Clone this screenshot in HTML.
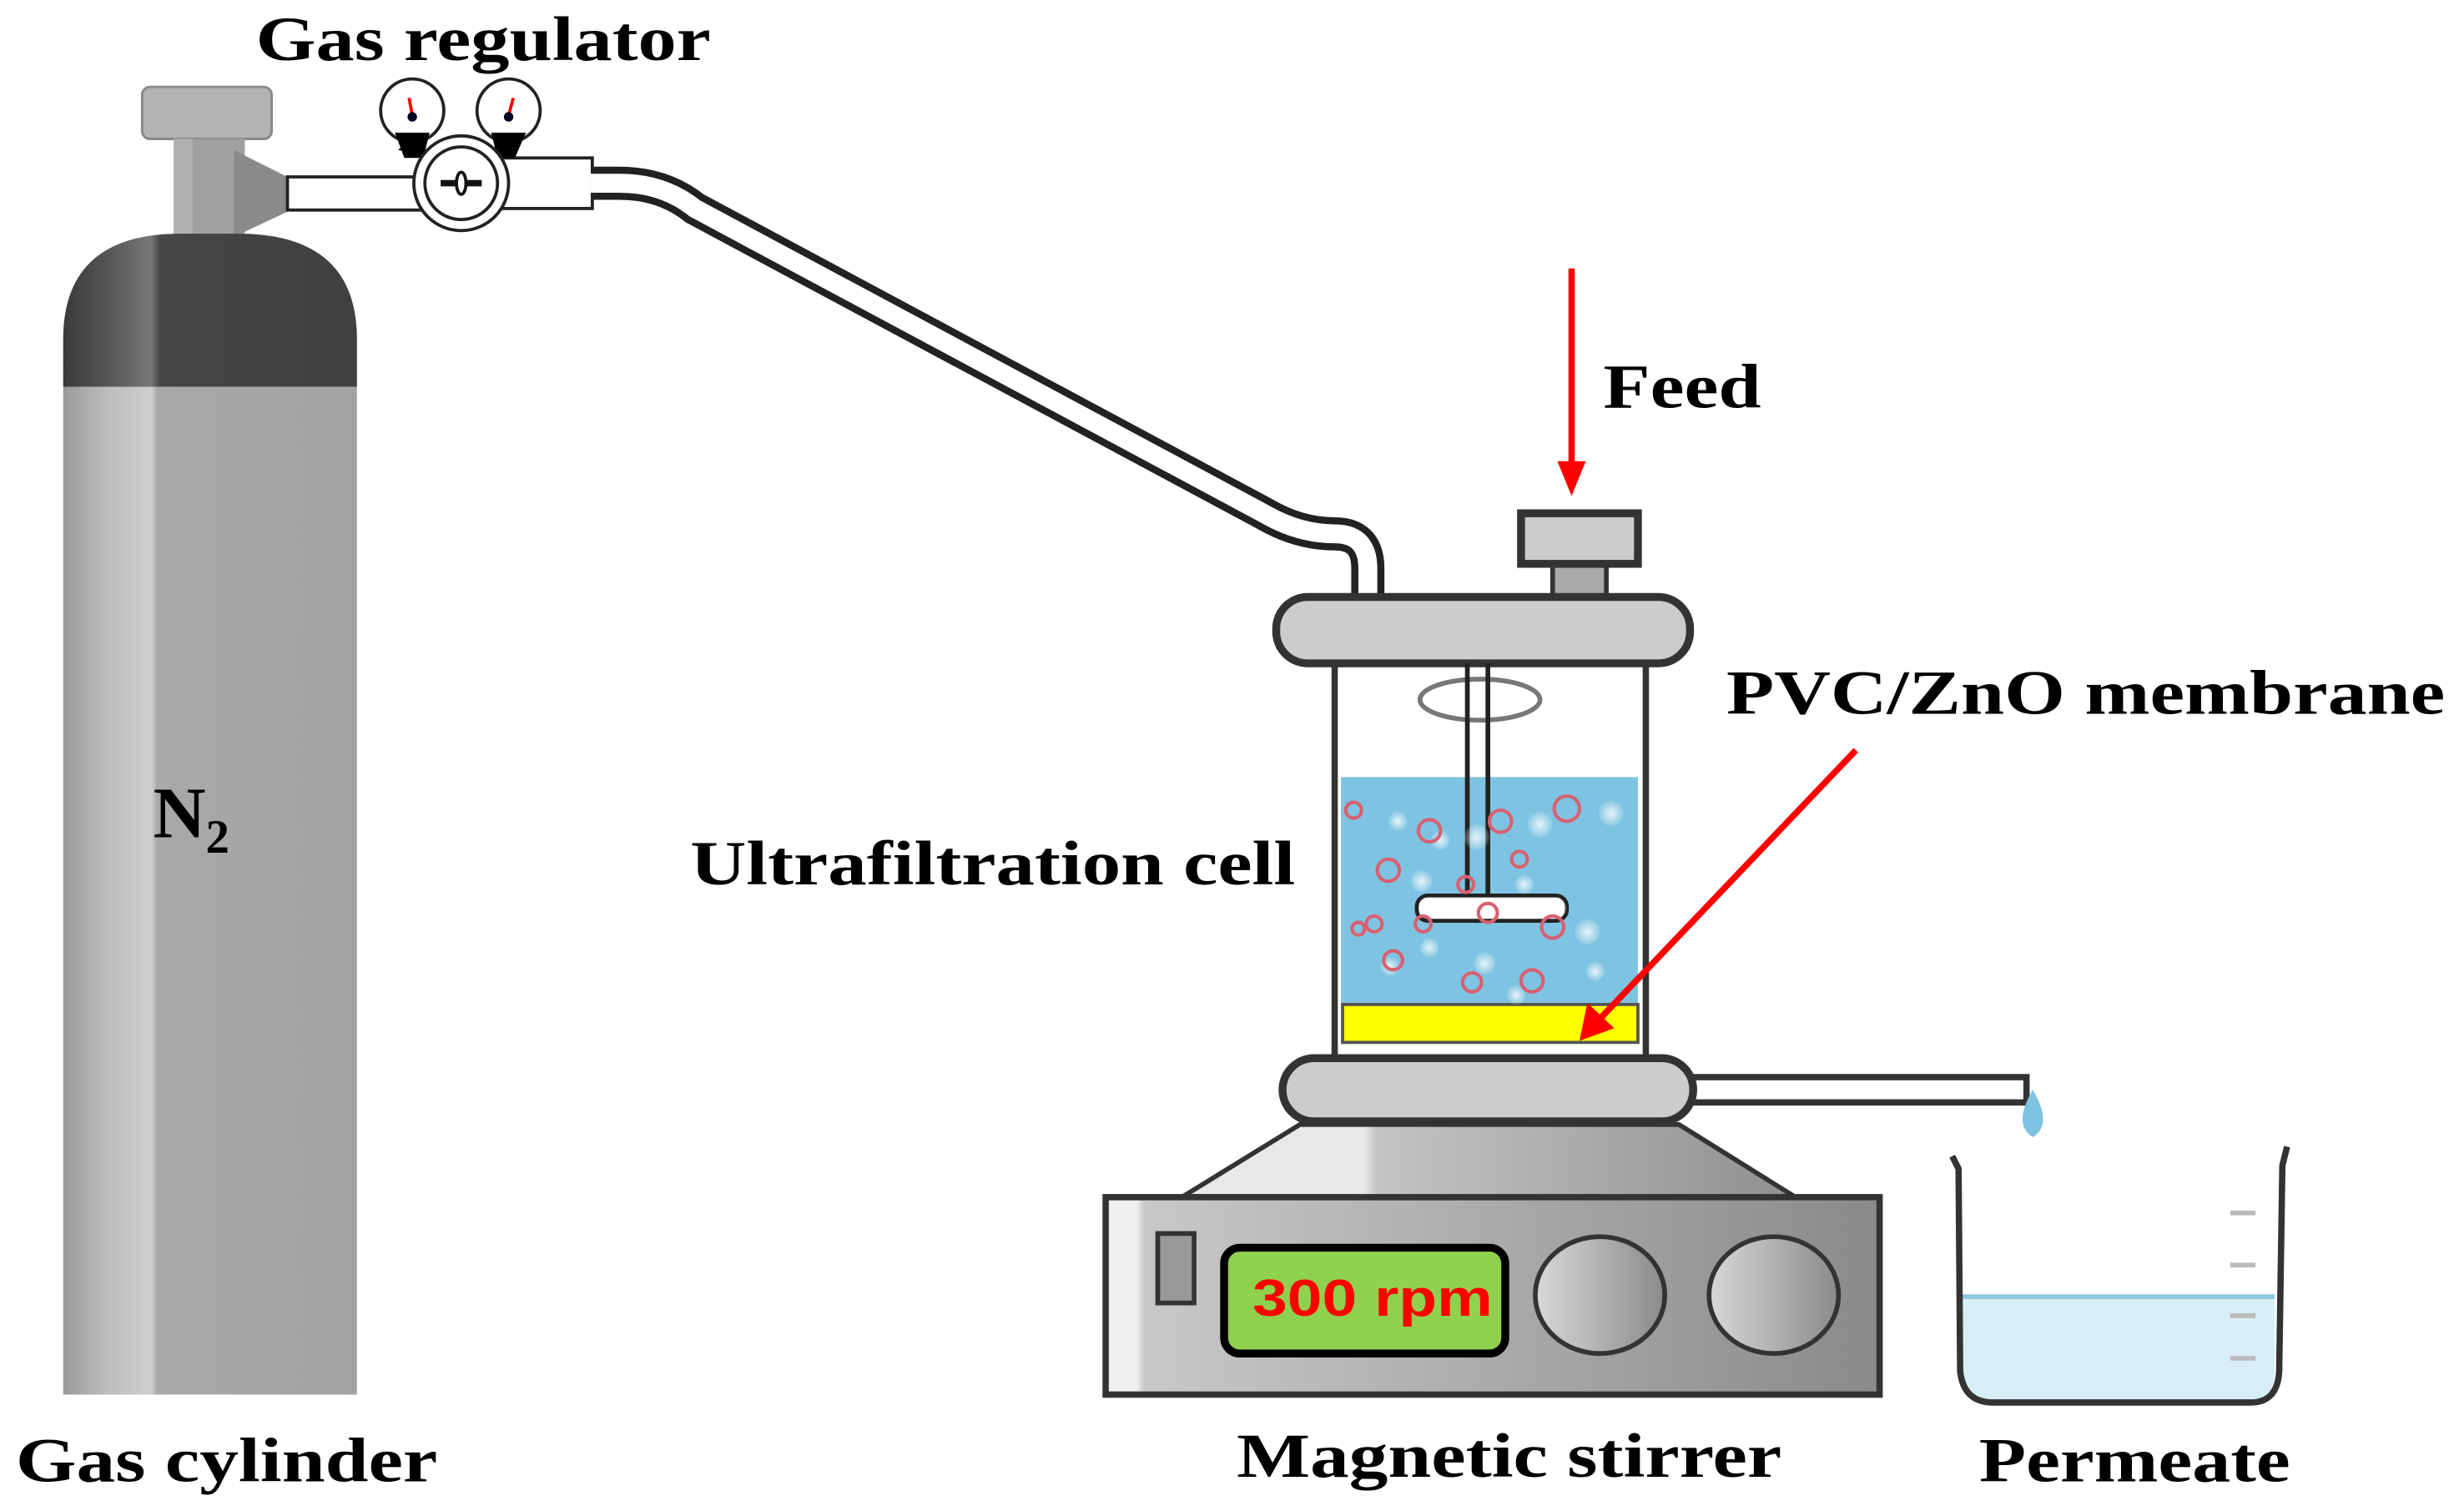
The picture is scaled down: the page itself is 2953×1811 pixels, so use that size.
<!DOCTYPE html>
<html><head><meta charset="utf-8"><style>html,body{margin:0;padding:0;background:#fff}svg{display:block}</style></head>
<body>
<svg width="2953" height="1811" viewBox="0 0 1560 956.7" xmlns="http://www.w3.org/2000/svg" font-family="'Liberation Serif',serif" font-weight="bold">
<defs>
<linearGradient id="cyl" x1="0" x2="1"><stop offset="0" stop-color="#9a9a9a"/><stop offset="0.15" stop-color="#bdbdbd"/><stop offset="0.3" stop-color="#cfcfcf"/><stop offset="0.32" stop-color="#a9a9a9"/><stop offset="1" stop-color="#a3a3a3"/></linearGradient>
<linearGradient id="dome" x1="0" x2="1"><stop offset="0" stop-color="#3a3a3a"/><stop offset="0.15" stop-color="#555"/><stop offset="0.3" stop-color="#777"/><stop offset="0.33" stop-color="#454545"/><stop offset="1" stop-color="#404040"/></linearGradient>
<linearGradient id="box" x1="0" x2="1"><stop offset="0" stop-color="#f0f0f0"/><stop offset="0.04" stop-color="#f0f0f0"/><stop offset="0.05" stop-color="#c8c8c8"/><stop offset="1" stop-color="#8a8a8a"/></linearGradient>
<linearGradient id="trap" x1="0" x2="1"><stop offset="0" stop-color="#e8e8e8"/><stop offset="0.3" stop-color="#e8e8e8"/><stop offset="0.32" stop-color="#c4c4c4"/><stop offset="1" stop-color="#8f8f8f"/></linearGradient>
<linearGradient id="knob" x1="0" x2="1"><stop offset="0" stop-color="#d8d8d8"/><stop offset="1" stop-color="#8a8a8a"/></linearGradient>
<radialGradient id="wb"><stop offset="0" stop-color="#fff" stop-opacity="0.8"/><stop offset="1" stop-color="#fff" stop-opacity="0.1"/></radialGradient>
</defs>

<!-- Gas cylinder -->
<rect x="90" y="55" width="82" height="33" rx="5" fill="#b3b3b3" stroke="#888" stroke-width="1.5"/>
<rect x="110" y="88" width="45" height="65" fill="#a0a0a0"/>
<rect x="110" y="88" width="12" height="65" fill="#b0b0b0"/>
<path d="M148,95 L182,112 L182,134 L148,150 Z" fill="#8a8a8a"/>
<path d="M40,245 L40,215 Q40,150 110,148 L155,148 Q226,150 226,215 L226,245 Z" fill="url(#dome)"/>
<rect x="40" y="245" width="186" height="638" fill="url(#cyl)"/>
<text x="97" y="530" font-size="46">N<tspan font-size="30" dy="10">2</tspan></text>
<text x="10" y="938" font-size="40" textLength="267" lengthAdjust="spacingAndGlyphs">Gas cylinder</text>

<!-- Regulator -->
<text x="162" y="38" font-size="40" textLength="288" lengthAdjust="spacingAndGlyphs">Gas regulator</text>
<rect x="182" y="112" width="90" height="21" fill="#fff" stroke="#222" stroke-width="2"/>
<rect x="310" y="100" width="65" height="32" fill="#fff" stroke="#222" stroke-width="2"/>
<path d="M252,95 L258,90 L265,97 Z M312,95 L318,88 L325,97Z" fill="#000"/>
<circle cx="261" cy="70" r="20" fill="#fff" stroke="#222" stroke-width="2"/>
<circle cx="322" cy="70" r="20" fill="#fff" stroke="#222" stroke-width="2"/>
<path d="M250,84 L256,100 L268,100 L272,84Z M311,84 L315,100 L326,100 L333,84Z" fill="#000"/>
<line x1="261" y1="73" x2="259" y2="62" stroke="red" stroke-width="2"/>
<line x1="322" y1="73" x2="325" y2="62" stroke="red" stroke-width="2"/>
<circle cx="261" cy="74" r="3" fill="#002"/><circle cx="322" cy="74" r="3" fill="#002"/>
<circle cx="292" cy="116" r="30" fill="#fff" stroke="#222" stroke-width="2"/>
<circle cx="292" cy="116" r="23" fill="#fff" stroke="#222" stroke-width="2"/>
<line x1="279" y1="116" x2="305" y2="116" stroke="#111" stroke-width="4"/>
<ellipse cx="292" cy="116" rx="3" ry="7" fill="#fff" stroke="#111" stroke-width="2"/>

<!-- tube -->
<path d="M375,116 L392,116 Q420,116 440,132 L800,325 Q822,338 845,338 Q866,338 866,360 L866,380" fill="none" stroke="#222" stroke-width="21"/>
<path d="M374,116 L392,116 Q420,116 440,132 L800,325 Q822,338 845,338 Q866,338 866,360 L866,382" fill="none" stroke="#fff" stroke-width="12"/>

<!-- Feed -->
<line x1="995" y1="170" x2="995" y2="296" stroke="red" stroke-width="4"/>
<path d="M986,292 L1004,292 L995,314 Z" fill="red"/>
<text x="1015" y="258" font-size="40" textLength="100" lengthAdjust="spacingAndGlyphs">Feed</text>
<rect x="983" y="357" width="34" height="22" fill="#aaa" stroke="#333" stroke-width="3"/>
<rect x="963" y="325" width="74" height="32" fill="#ccc" stroke="#333" stroke-width="5"/>

<!-- Cell -->
<rect x="845" y="420" width="197" height="250" fill="#fff" stroke="#333" stroke-width="4"/>
<rect x="849" y="492" width="188" height="144" fill="#7ec4e2"/>
<rect x="850" y="636" width="187" height="24" fill="#ffff00" stroke="#555" stroke-width="2"/>
<rect x="808" y="378" width="262" height="42" rx="20" fill="#ccc" stroke="#333" stroke-width="5"/>
<ellipse cx="937" cy="443" rx="38" ry="13" fill="none" stroke="#777" stroke-width="3"/>
<line x1="929" y1="420" x2="929" y2="570" stroke="#222" stroke-width="3"/>
<line x1="942" y1="420" x2="942" y2="570" stroke="#222" stroke-width="3"/>
<rect x="897" y="567" width="95" height="16" rx="7" fill="#fff" stroke="#222" stroke-width="2.5"/>
<g fill="url(#wb)">
<circle cx="885" cy="520" r="6"/><circle cx="912" cy="532" r="6"/><circle cx="975" cy="522" r="8"/><circle cx="1020" cy="515" r="8"/><circle cx="900" cy="558" r="7"/><circle cx="935" cy="530" r="8"/><circle cx="965" cy="560" r="6"/><circle cx="985" cy="575" r="7"/><circle cx="1005" cy="590" r="8"/><circle cx="905" cy="600" r="6"/><circle cx="940" cy="610" r="7"/><circle cx="1010" cy="615" r="6"/><circle cx="960" cy="630" r="6"/><circle cx="880" cy="612" r="6"/>
</g>
<g fill="none" stroke="#d86070" stroke-width="2.2">
<circle cx="857" cy="513" r="5"/><circle cx="905" cy="526" r="7"/><circle cx="950" cy="520" r="7"/><circle cx="992" cy="512" r="8"/><circle cx="879" cy="551" r="7"/><circle cx="962" cy="544" r="5"/><circle cx="928" cy="560" r="5"/><circle cx="870" cy="585" r="5"/><circle cx="901" cy="585" r="5"/><circle cx="942" cy="578" r="6"/><circle cx="983" cy="587" r="7"/><circle cx="882" cy="608" r="6"/><circle cx="932" cy="622" r="6"/><circle cx="970" cy="621" r="7"/><circle cx="860" cy="588" r="4"/>
</g>
<text x="437" y="560" font-size="40" textLength="383" lengthAdjust="spacingAndGlyphs">Ultrafiltration cell</text>
<text x="1093" y="452" font-size="40" textLength="455" lengthAdjust="spacingAndGlyphs">PVC/ZnO membrane</text>
<line x1="1175" y1="475" x2="1012" y2="646" stroke="red" stroke-width="4"/>
<path d="M1000,659 L1005,635 L1022,651 Z" fill="red"/>

<!-- outlet -->
<rect x="1070" y="682" width="213" height="16" fill="#fff" stroke="#333" stroke-width="4"/>
<path d="M1287,690 Q1300,712 1287,720 Q1274,712 1287,690Z" fill="#7ec4e2"/>
<rect x="812" y="670" width="260" height="40" rx="20" fill="#ccc" stroke="#333" stroke-width="5"/>

<!-- Stirrer -->
<path d="M823,712 L1063,712 L1140,760 L745,760 Z" fill="url(#trap)" stroke="#333" stroke-width="3"/>
<rect x="700" y="758" width="490" height="125" fill="url(#box)" stroke="#333" stroke-width="4"/>
<rect x="733" y="781" width="23" height="44" fill="#999" stroke="#333" stroke-width="3"/>
<rect x="775" y="790" width="178" height="67" rx="10" fill="#8fd14f" stroke="#000" stroke-width="5"/>
<text x="793" y="833" font-family="'Liberation Sans',sans-serif" font-size="33" fill="red" textLength="152" lengthAdjust="spacingAndGlyphs">300 rpm</text>
<ellipse cx="1013" cy="820" rx="41" ry="37" fill="url(#knob)" stroke="#333" stroke-width="3"/>
<ellipse cx="1123" cy="820" rx="41" ry="37" fill="url(#knob)" stroke="#333" stroke-width="3"/>
<text x="783" y="935" font-size="40" textLength="345" lengthAdjust="spacingAndGlyphs">Magnetic stirrer</text>

<!-- Beaker -->
<path d="M1242,820 L1440,820 L1440,868 Q1440,888 1422,888 L1262,888 Q1242,888 1242,868 Z" fill="#d8eef6"/>
<line x1="1242" y1="821" x2="1440" y2="821" stroke="#8cc8e0" stroke-width="3"/>
<g stroke="#bbb" stroke-width="3"><line x1="1412" y1="768" x2="1428" y2="768"/><line x1="1412" y1="801" x2="1428" y2="801"/><line x1="1412" y1="833" x2="1428" y2="833"/><line x1="1412" y1="860" x2="1428" y2="860"/></g>
<path d="M1236,732 L1240,740 L1241,868 Q1243,888 1262,888 L1425,888 Q1442,888 1443,868 L1445,738 L1448,726" fill="none" stroke="#333" stroke-width="4"/>
<text x="1253" y="938" font-size="40" textLength="197" lengthAdjust="spacingAndGlyphs">Permeate</text>
</svg>
</body></html>
